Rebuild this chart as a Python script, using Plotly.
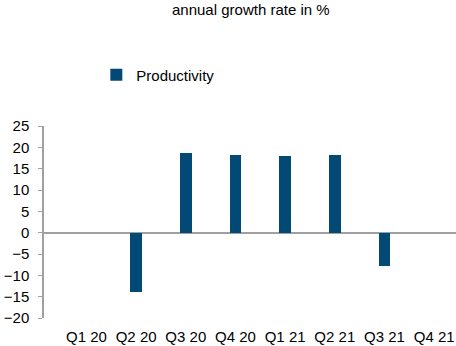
import plotly.graph_objects as go

categories = ["Q1 20", "Q2 20", "Q3 20", "Q4 20", "Q1 21", "Q2 21", "Q3 21", "Q4 21"]
productivity = [0, -14.0, 18.6, 18.2, 17.9, 18.1, -7.9, 0]
y_ticks = [-20, -15, -10, -5, 0, 5, 10, 15, 20, 25]

FONT = "Liberation Sans, Arial, sans-serif"

fig = go.Figure()
fig.add_trace(go.Bar(
    x=list(range(len(categories))),
    y=productivity,
    name="Productivity",
    marker=dict(color="#024A75", line=dict(width=0)),
    width=0.23,
    showlegend=True,
))

fig.update_layout(
    width=456, height=346, autosize=False,
    margin=dict(l=44, r=0, t=126, b=28),
    paper_bgcolor="white", plot_bgcolor="white",
    font=dict(family=FONT, size=15, color="#000000"),
    title=dict(text="annual growth rate in %", x=0.55, xanchor="center",
               y=0.972, yanchor="middle", yref="container",
               font=dict(family=FONT, size=15, color="#000000")),
    showlegend=True,
    legend=dict(x=0.127, y=1.266, xanchor="left", yanchor="middle",
                font=dict(family=FONT, size=15), bgcolor="rgba(0,0,0,0)",
                itemwidth=30),
    bargap=0,
)

fig.update_xaxes(
    tickmode="array", tickvals=list(range(len(categories))), ticktext=categories,
    range=[-0.855, 7.44], showgrid=False, zeroline=False, showline=False,
    ticks="", ticklabelstandoff=8, automargin=False,
    tickfont=dict(family=FONT, size=15, color="#000000"),
)
fig.update_yaxes(
    range=[-20, 25], tickvals=y_ticks, showgrid=False,
    zeroline=True, zerolinecolor="#A0A0A0", zerolinewidth=1.5,
    showline=True, linecolor="#A0A0A0", linewidth=1.5,
    ticks="outside", ticklen=4, tickcolor="#A0A0A0", tickwidth=1,
    ticklabelstandoff=6, automargin=False,
    tickfont=dict(family=FONT, size=15, color="#000000"),
)

fig.write_html("out.html", config={"displayModeBar": False},
               post_script="document.body.style.margin='0';")
